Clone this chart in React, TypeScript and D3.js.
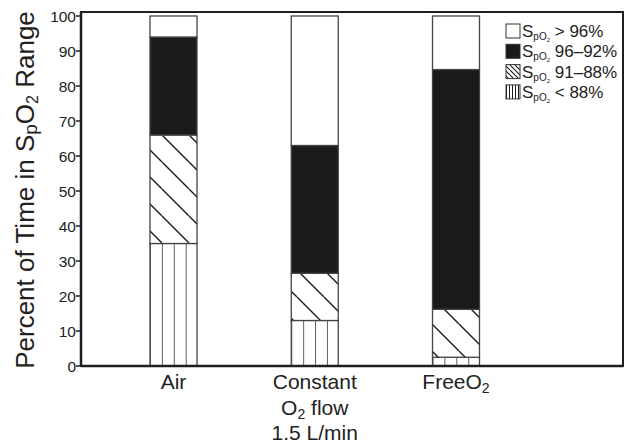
import React from 'react';
import * as d3 from 'd3';

const categories = ['Air', 'Constant', 'FreeO2'];
// stacked from bottom: <88, 91-88, 96-92, >96
const below88 = [35, 13, 2.5];
const range91to88 = [31, 13.5, 13.7];
const range96to92 = [28, 36.5, 68.5];
const above96 = [6, 37, 15.3];
const yTicks = [0, 10, 20, 30, 40, 50, 60, 70, 80, 90, 100];
const legendLabels = ['> 96%', '96\u201392%', '91\u201388%', '< 88%'];

const W = 626, H = 443;
const left = 81, right = 623, top = 12, bottom = 366;
const font = '"Liberation Sans", Arial, sans-serif';

export default function App() {
  const y = d3.scaleLinear().domain([0, 100]).range([bottom, 16]);
  const x = d3.scalePoint().domain(categories).range([173.5, 456]);
  const bw = 47;

  const rows = categories.map((c, i) => ({
    cat: c,
    b88: below88[i],
    h9188: range91to88[i],
    h9692: range96to92[i],
    a96: above96[i],
  }));
  const stack = d3.stack().keys(['b88', 'h9188', 'h9692', 'a96'])(rows as any);
  const fills = ['vert', 'diag', 'black', 'white'];

  return (
    <svg width={W} height={H} style={{ display: 'block', position: 'absolute', left: 0, top: 0 }}>
      <defs>
        <pattern id="diag" patternUnits="userSpaceOnUse" width={27} height={27}>
          <rect width={27} height={27} fill="#fff" />
          <path d="M0,0L27,27M-27,0L0,27M0,-27L27,0" stroke="#1a1a1a" strokeWidth={1.4} />
        </pattern>
        {categories.map((c) => (
          <pattern key={c} id={'vert' + c} patternUnits="userSpaceOnUse" width={11.9} height={10}
            x={(x(c) as number) - bw / 2}>
            <rect width={11.9} height={10} fill="#fff" />
            <line x1={0} x2={0} y1={0} y2={10} stroke="#1a1a1a" strokeWidth={1.4} />
          </pattern>
        ))}
        <pattern id="ldiag" patternUnits="userSpaceOnUse" width={5} height={5}>
          <rect width={5} height={5} fill="#fff" />
          <path d="M0,0L5,5M-5,0L0,5M0,-5L5,0" stroke="#1a1a1a" strokeWidth={1.1} />
        </pattern>
        <pattern id="lvert" patternUnits="userSpaceOnUse" width={3} height={3} x={506}>
          <rect width={3} height={3} fill="#fff" />
          <line x1={0.5} x2={0.5} y1={0} y2={3} stroke="#1a1a1a" strokeWidth={1} />
        </pattern>
      </defs>

      {/* frame */}
      <rect x={left} y={top} width={right - left} height={bottom - top} fill="none" stroke="#1f1f1f" strokeWidth={2} />

      {/* bars */}
      {stack.map((layer, li) =>
        layer.map((d, i) => {
          const c = categories[i];
          const f = fills[li];
          const fill = f === 'vert' ? `url(#vert${c})` : f === 'diag' ? 'url(#diag)' : f === 'black' ? '#1a1a1a' : '#fff';
          return (
            <rect key={li + '-' + i} x={(x(c) as number) - bw / 2} y={y(d[1])} width={bw}
              height={y(d[0]) - y(d[1])} fill={fill} stroke="#444" strokeWidth={1.3} />
          );
        })
      )}

      {/* y axis */}
      <line x1={left} x2={left} y1={top} y2={bottom} stroke="#1f1f1f" strokeWidth={2.5} />
      <line x1={left} x2={right} y1={bottom} y2={bottom} stroke="#1f1f1f" strokeWidth={2.5} />
      {yTicks.map((t) => (
        <g key={t}>
          <line x1={left - 5} x2={left} y1={y(t)} y2={y(t)} stroke="#1f1f1f" strokeWidth={1.5} />
          <text x={left - 5} y={y(t)} dy="0.36em" textAnchor="end" fontFamily={font} fontSize={15.5} fill="#222">{t}</text>
        </g>
      ))}

      <text transform={`translate(34,${(top + bottom) / 2 + 1}) rotate(-90)`} textAnchor="middle"
        fontFamily={font} fontSize={26} fill="#222">
        Percent of Time in S<tspan fontSize={19} dy={3}>p</tspan><tspan dy={-3}>O</tspan><tspan fontSize={16} dy={4}>2</tspan><tspan dy={-4}> Range</tspan>
      </text>

      {/* x labels */}
      <g fontFamily={font} fontSize={21} fill="#222" textAnchor="middle">
        <text x={x('Air')} y={389}>Air</text>
        <text x={x('Constant')} y={389}>Constant</text>
        <text x={x('Constant')} y={415}>O<tspan fontSize={14} dy={4}>2</tspan><tspan dy={-4}> flow</tspan></text>
        <text x={x('Constant')} y={440}>1.5 L/min</text>
        <text x={x('FreeO2')} y={389}>FreeO<tspan fontSize={14} dy={4}>2</tspan></text>
      </g>

      {/* legend */}
      {legendLabels.map((l, i) => {
        const cy = 31 + i * 20.3;
        const lf = ['#fff', '#1a1a1a', 'url(#ldiag)', 'url(#lvert)'][i];
        return (
          <g key={l}>
            <rect x={506} y={cy - 7} width={14} height={14} fill={lf} stroke="#333" strokeWidth={1} />
            <text x={522} y={cy + 6} fontFamily={font} fontSize={17} fill="#222">
              S<tspan fontSize={10} dy={3}>pO</tspan><tspan fontSize={6} dy={2}>2</tspan><tspan dy={-5}> {l}</tspan>
            </text>
          </g>
        );
      })}
    </svg>
  );
}
